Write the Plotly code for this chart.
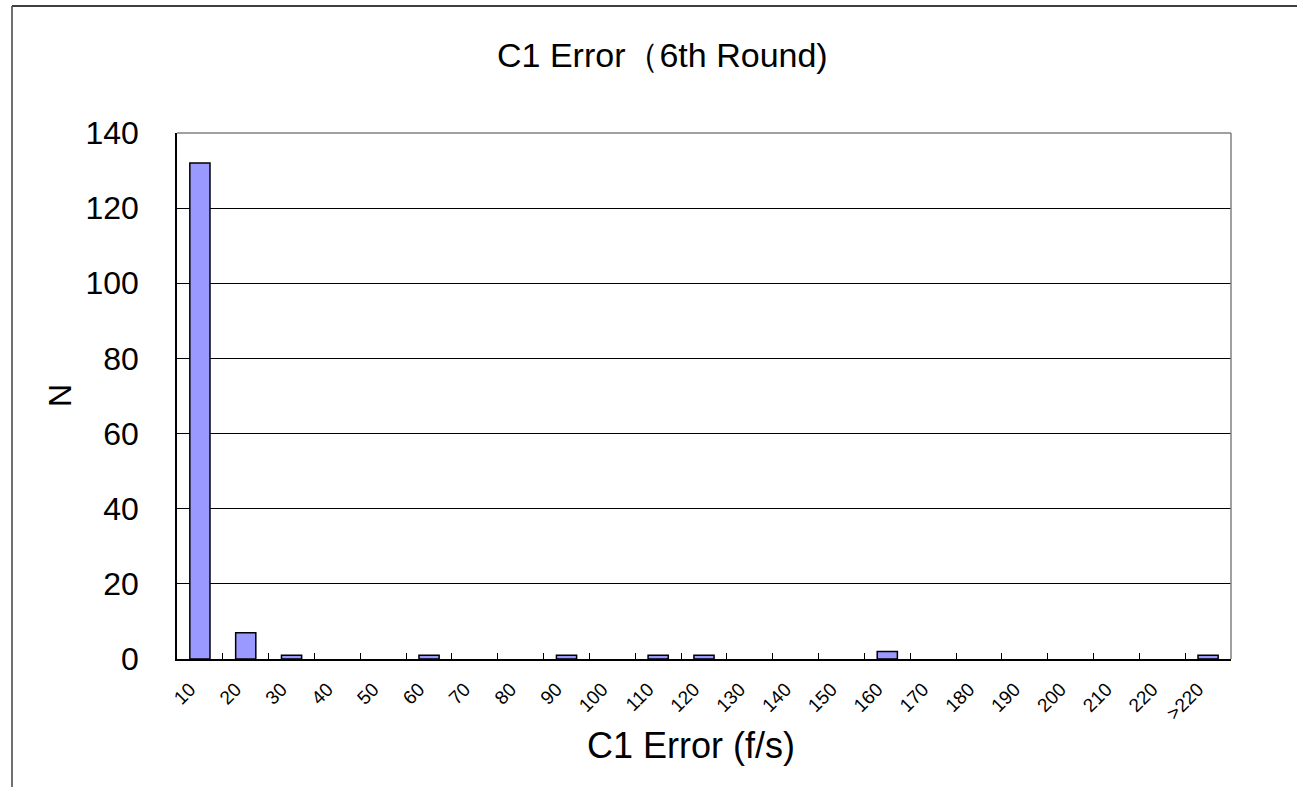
import plotly.graph_objects as go

categories = ["10", "20", "30", "40", "50", "60", "70", "80", "90", "100", "110", "120",
              "130", "140", "150", "160", "170", "180", "190", "200", "210", "220", ">220"]
counts = [132, 7, 1, 0, 0, 1, 0, 0, 1, 0, 1, 1, 0, 0, 0, 2, 0, 0, 0, 0, 0, 0, 1]
y_ticks = [0, 20, 40, 60, 80, 100, 120, 140]

W, H = 1297, 787
L, R, T, B = 177, 1231, 133, 659
pw, ph = R - L, B - T

def px(x):
    return (x - L) / pw

def py(y):
    return (B - y) / ph

FONT = "Liberation Sans, Arial, sans-serif"

fig = go.Figure()
fig.add_trace(go.Bar(
    x=categories, y=[c if c else None for c in counts], width=0.44,
    marker=dict(color="#9999FF", line=dict(color="#000000", width=1.5)),
    hoverinfo="x+y",
))

fig.update_layout(
    width=W, height=H,
    margin=dict(l=L, r=W - R, t=T, b=H - B, pad=0),
    paper_bgcolor="white", plot_bgcolor="white",
    showlegend=False,
    font=dict(family=FONT, color="black"),
    xaxis=dict(
        type="category", showline=True, linecolor="black", linewidth=1.5,
        ticks="inside", ticklen=6, tickcolor="black", tickson="boundaries",
        tickangle=-45, tickfont=dict(size=19, family=FONT), ticklabelstandoff=10,
        ticklabelshift=-10,
        showgrid=False, zeroline=False,
    ),
    yaxis=dict(
        range=[0, 140], tickvals=y_ticks, showline=True, linecolor="black", linewidth=1.5,
        ticks="", tickfont=dict(size=32, family=FONT), ticklabelstandoff=30,
        showgrid=True, gridcolor="#000000", gridwidth=1, zeroline=False,
    ),
    shapes=[
        dict(type="line", xref="paper", yref="paper", x0=0, x1=1, y0=1, y1=1,
             line=dict(color="#808080", width=1.5)),
        dict(type="line", xref="paper", yref="paper", x0=1, x1=1, y0=0, y1=1,
             line=dict(color="#808080", width=1.5)),
        dict(type="line", xref="paper", yref="paper", x0=px(12), x1=px(1300), y0=py(6), y1=py(6),
             line=dict(color="#404040", width=2)),
        dict(type="line", xref="paper", yref="paper", x0=px(12), x1=px(12), y0=py(6), y1=py(790),
             line=dict(color="#404040", width=1.5)),
    ],
    annotations=[
        dict(text="C1 Error（6th Round)", xref="paper", yref="paper", x=px(662), y=py(55),
             showarrow=False, xanchor="center", yanchor="middle",
             font=dict(size=34, family=FONT)),
        dict(text="C1 Error (f/s)", xref="paper", yref="paper", x=px(691), y=py(745),
             showarrow=False, xanchor="center", yanchor="middle",
             font=dict(size=36, family=FONT)),
        dict(text="N", xref="paper", yref="paper", x=px(60), y=py(396), textangle=-90,
             showarrow=False, xanchor="center", yanchor="middle",
             font=dict(size=32, family=FONT)),
    ],
)

fig.write_html("out.html", config={"displayModeBar": False},
               post_script="document.body.style.margin='0';")
